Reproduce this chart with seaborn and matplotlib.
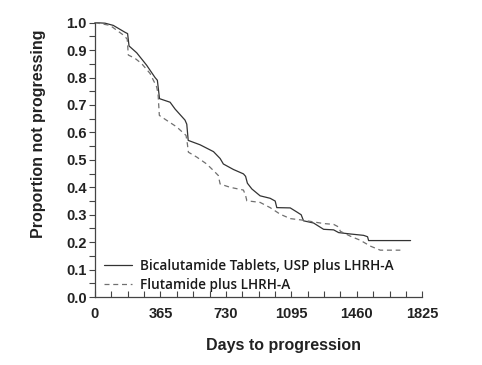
import numpy as np
import pandas as pd
import matplotlib
matplotlib.use("Agg")
import matplotlib.pyplot as plt
import seaborn as sns
from matplotlib.ticker import MultipleLocator, FormatStrFormatter

sns.set_style("ticks")
plt.rcParams["font.family"] = ["Liberation Sans", "DejaVu Sans"]

# curve vertices (days, proportion not progressing)
bica_days = [0, 56, 102, 167, 182, 190, 233, 288, 335, 348, 360, 419, 447, 502,
             512, 520, 586, 661, 698, 716, 772, 828, 840, 850, 875, 921, 977,
             1005, 1014, 1089, 1126, 1150, 1163, 1219, 1275, 1331, 1359, 1424,
             1498, 1520, 1526, 1760]
bica_prop = [1.0, 0.998, 0.99, 0.965, 0.96, 0.915, 0.89, 0.845, 0.80, 0.79,
             0.723, 0.71, 0.685, 0.645, 0.63, 0.571, 0.555, 0.53, 0.505, 0.485,
             0.465, 0.449, 0.44, 0.415, 0.394, 0.369, 0.36, 0.35, 0.326, 0.325,
             0.31, 0.30, 0.278, 0.27, 0.247, 0.245, 0.235, 0.23, 0.225, 0.22,
             0.206, 0.206]

flut_days = [0, 84, 158, 180, 186, 223, 260, 307, 344, 352, 359, 400, 456, 508,
             515, 521, 568, 623, 661, 688, 692, 698, 754, 828, 840, 847, 921, 977,
             1033, 1089, 1163, 1275, 1331, 1360, 1368, 1424, 1480, 1535, 1591,
             1703]
flut_prop = [1.0, 0.99, 0.955, 0.94, 0.882, 0.87, 0.851, 0.815, 0.766, 0.74,
             0.662, 0.644, 0.62, 0.589, 0.56, 0.528, 0.51, 0.485, 0.461, 0.443,
             0.43, 0.412, 0.40, 0.39, 0.37, 0.351, 0.345, 0.326, 0.302, 0.286,
             0.28, 0.268, 0.265, 0.255, 0.24, 0.222, 0.207, 0.186, 0.171, 0.171]

labels = ["Bicalutamide Tablets, USP plus LHRH-A", "Flutamide plus LHRH-A"]
x_ticks = [0, 365, 730, 1095, 1460, 1825]

bica = pd.DataFrame({"Days": bica_days, "Prop": bica_prop})
flut = pd.DataFrame({"Days": flut_days, "Prop": flut_prop})

fig = plt.figure(figsize=(4.82, 3.65), dpi=100)
ax = fig.add_axes([0.197, 0.186, 0.679, 0.752])

sns.lineplot(data=bica, x="Days", y="Prop", ax=ax, estimator=None, sort=False,
             color="#333333", linewidth=0.9, label=labels[0], clip_on=False)
sns.lineplot(data=flut, x="Days", y="Prop", ax=ax, estimator=None, sort=False,
             color="#707070", linewidth=0.9, linestyle=(0, (4, 3)),
             label=labels[1], clip_on=False)

ax.set_xlim(0, 1825)
ax.set_ylim(0, 1.0)
ax.set_xticks(x_ticks)
ax.xaxis.set_minor_locator(MultipleLocator(91.25))
ax.yaxis.set_major_locator(MultipleLocator(0.1))
ax.yaxis.set_minor_locator(MultipleLocator(0.05))
ax.yaxis.set_major_formatter(FormatStrFormatter("%.1f"))

for lab in ax.get_xticklabels() + ax.get_yticklabels():
    lab.set_fontweight("bold")
    lab.set_color("#222222")
ax.tick_params(axis="x", which="both", direction="in", length=4, width=0.8,
               labelsize=10.5, pad=7, color="#444444")
ax.tick_params(axis="y", which="both", direction="out", length=4, width=0.8,
               labelsize=10.5, pad=2, color="#444444")

sns.despine(ax=ax)
for s in ["left", "bottom"]:
    ax.spines[s].set_color("#444444")
    ax.spines[s].set_linewidth(0.9)

ax.set_xlabel("Days to progression", fontsize=11.5, fontweight="bold",
              color="#222222", va="center")
ax.xaxis.set_label_coords(0.575, -0.175)
ax.set_ylabel("Proportion not progressing", fontsize=11.5, fontweight="bold",
              color="#222222", va="center")
ax.yaxis.set_label_coords(-0.174, 0.596)

leg = ax.legend(loc="lower left", bbox_to_anchor=(0.0, -0.015), frameon=False,
                handlelength=2.0, handletextpad=0.6, labelspacing=0.35,
                borderaxespad=0.3,
                prop={"family": "Open Sans", "weight": "semibold", "size": 9.8})
for t in leg.get_texts():
    t.set_color("#1a1a1a")

fig.savefig("out.png", dpi=100)
